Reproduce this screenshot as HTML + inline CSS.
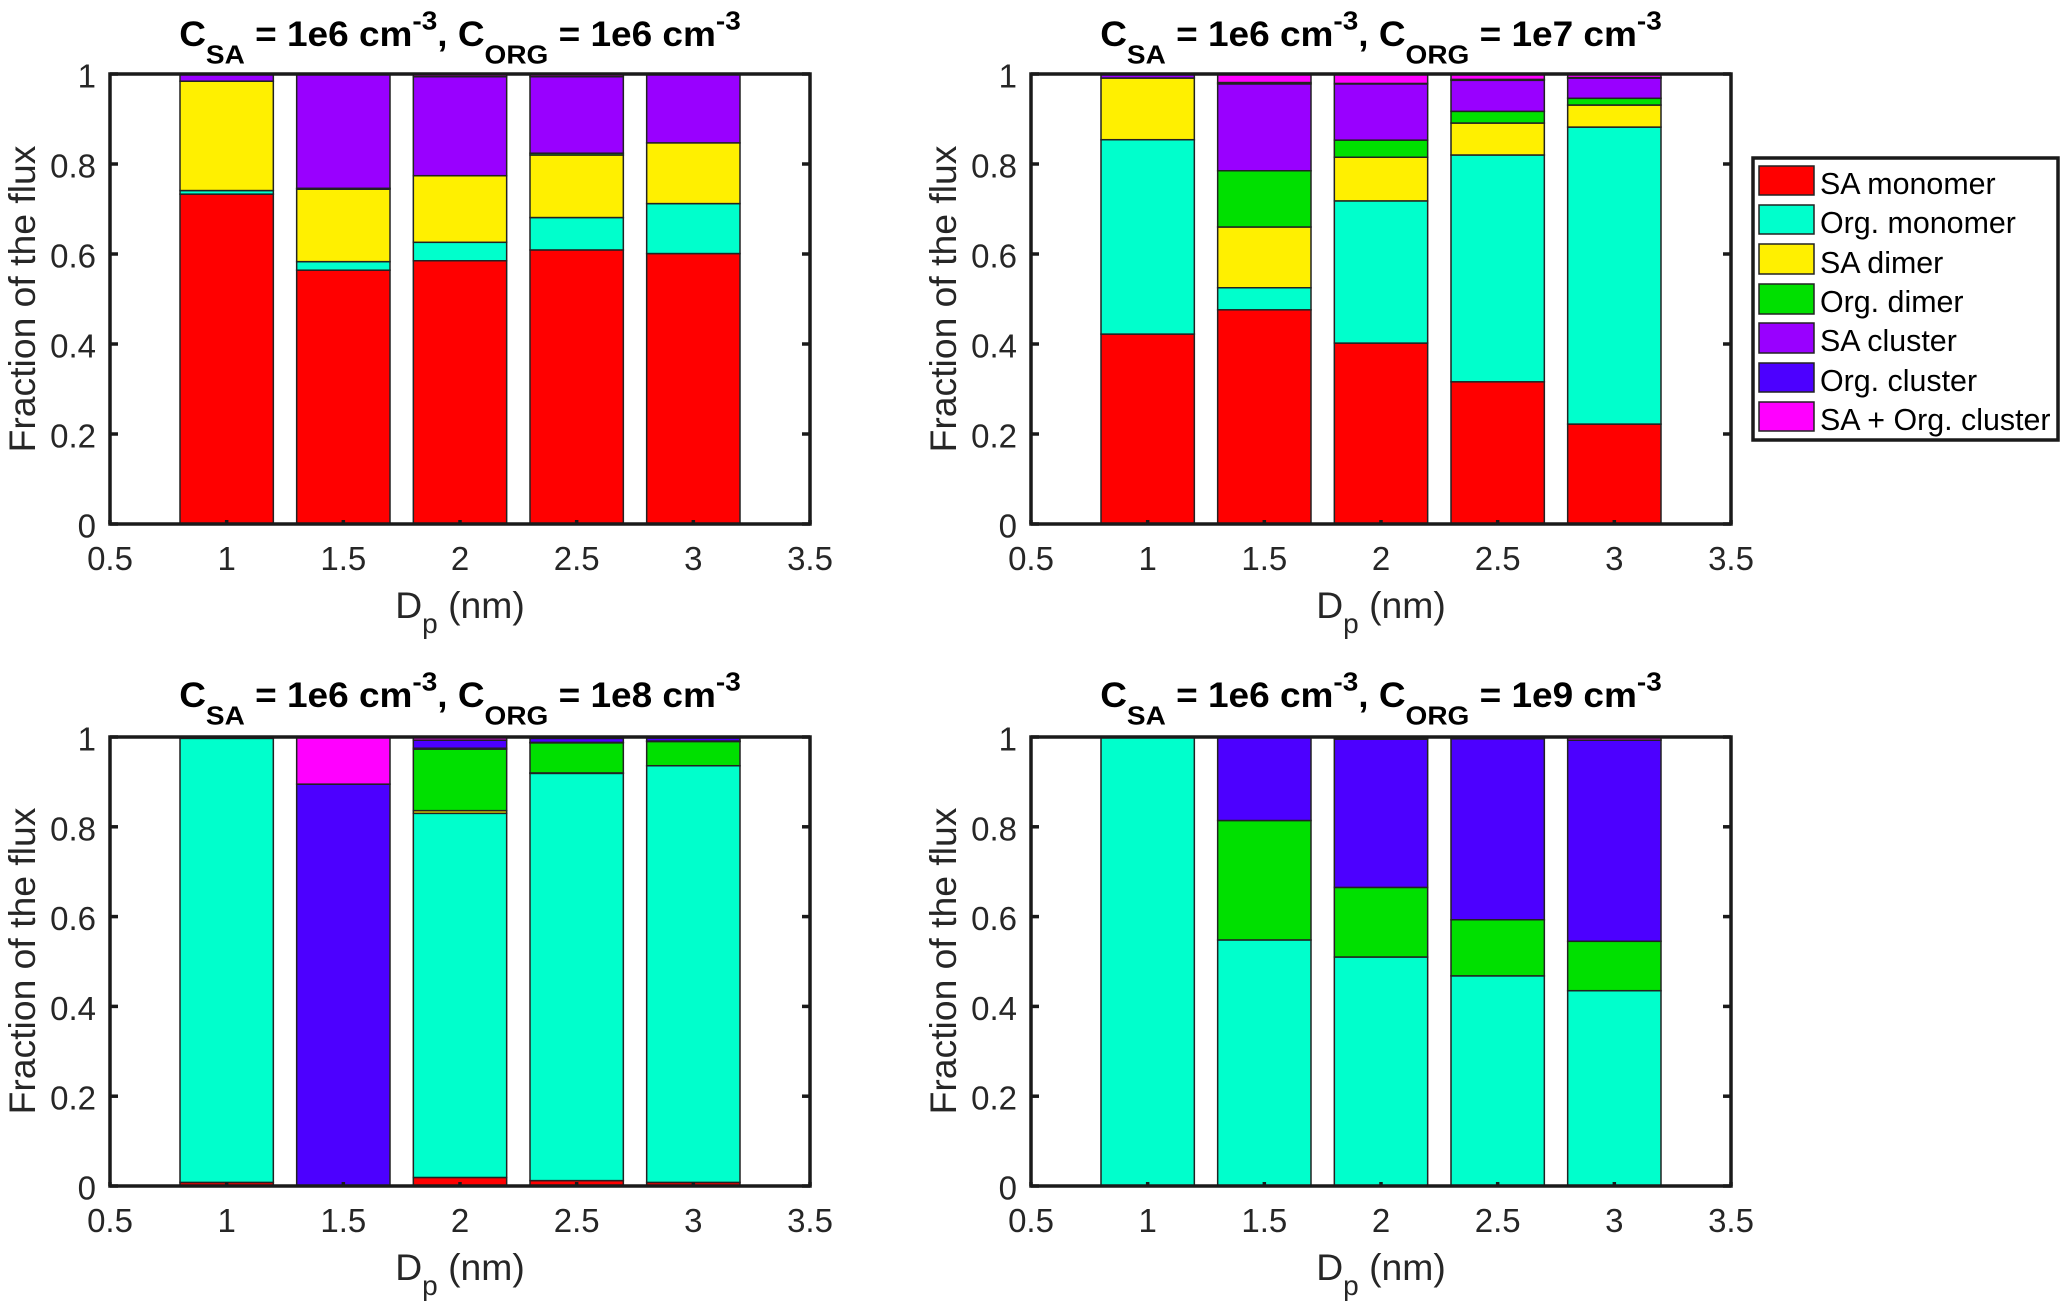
<!DOCTYPE html>
<html lang="en">
<head>
<meta charset="utf-8">
<title>Fraction of the flux by particle diameter</title>
<style>
html,body{margin:0;padding:0;background:#fff;}
svg{display:block;}
text{font-family:"Liberation Sans",Arial,sans-serif;fill:#262626;}
.tick-label{font-size:33px;}
.axis-label{font-size:37.3px;}
.title{font-size:37px;font-weight:bold;fill:#000;text-anchor:middle;}
.title .small{font-size:28px;}
.legend-text{font-size:30.4px;fill:#000;}
</style>
</head>
<body>
<svg id="figure" xmlns="http://www.w3.org/2000/svg" width="2067" height="1311" viewBox="0 0 2067 1311">
  <rect width="2067" height="1311" fill="#fff"/>

  <g id="panel-a">
    <text class="title" transform="translate(460,46) scale(1,0.94)">C<tspan class="small" dy="18.6">SA</tspan><tspan dy="-18.6"> = 1e6 cm</tspan><tspan class="small" dy="-17.6">-3</tspan><tspan dy="17.6">, C</tspan><tspan class="small" dy="18.6">ORG</tspan><tspan dy="-18.6"> = 1e6 cm</tspan><tspan class="small" dy="-17.6">-3</tspan></text>
    <text class="axis-label" x="460" y="618" text-anchor="middle">D<tspan font-size="28" dy="15">p</tspan><tspan dy="-15"> (nm)</tspan></text>
    <text class="axis-label" transform="translate(35,299) rotate(-90)" text-anchor="middle">Fraction of the flux</text>
  </g>

  <g id="panel-b">
    <text class="title" transform="translate(1381,46) scale(1,0.94)">C<tspan class="small" dy="18.6">SA</tspan><tspan dy="-18.6"> = 1e6 cm</tspan><tspan class="small" dy="-17.6">-3</tspan><tspan dy="17.6">, C</tspan><tspan class="small" dy="18.6">ORG</tspan><tspan dy="-18.6"> = 1e7 cm</tspan><tspan class="small" dy="-17.6">-3</tspan></text>
    <text class="axis-label" x="1381" y="618" text-anchor="middle">D<tspan font-size="28" dy="15">p</tspan><tspan dy="-15"> (nm)</tspan></text>
    <text class="axis-label" transform="translate(956,299) rotate(-90)" text-anchor="middle">Fraction of the flux</text>
  </g>

  <g id="panel-c">
    <text class="title" transform="translate(460,707) scale(1,0.94)">C<tspan class="small" dy="18.6">SA</tspan><tspan dy="-18.6"> = 1e6 cm</tspan><tspan class="small" dy="-17.6">-3</tspan><tspan dy="17.6">, C</tspan><tspan class="small" dy="18.6">ORG</tspan><tspan dy="-18.6"> = 1e8 cm</tspan><tspan class="small" dy="-17.6">-3</tspan></text>
    <text class="axis-label" x="460" y="1280" text-anchor="middle">D<tspan font-size="28" dy="15">p</tspan><tspan dy="-15"> (nm)</tspan></text>
    <text class="axis-label" transform="translate(35,961) rotate(-90)" text-anchor="middle">Fraction of the flux</text>
  </g>

  <g id="panel-d">
    <text class="title" transform="translate(1381,707) scale(1,0.94)">C<tspan class="small" dy="18.6">SA</tspan><tspan dy="-18.6"> = 1e6 cm</tspan><tspan class="small" dy="-17.6">-3</tspan><tspan dy="17.6">, C</tspan><tspan class="small" dy="18.6">ORG</tspan><tspan dy="-18.6"> = 1e9 cm</tspan><tspan class="small" dy="-17.6">-3</tspan></text>
    <text class="axis-label" x="1381" y="1280" text-anchor="middle">D<tspan font-size="28" dy="15">p</tspan><tspan dy="-15"> (nm)</tspan></text>
    <text class="axis-label" transform="translate(956,961) rotate(-90)" text-anchor="middle">Fraction of the flux</text>
  </g>

  <g id="legend">
    <rect x="1753" y="158" width="305" height="282" fill="#fff" stroke="#1a1a1a" stroke-width="3.5"/>
    <g><rect x="1759" y="166" width="55" height="29" fill="#ff0000" stroke="#222" stroke-width="1.5"/><text class="legend-text" x="1820" y="194">SA monomer</text></g>
    <g><rect x="1759" y="205" width="55" height="29" fill="#00ffcc" stroke="#222" stroke-width="1.5"/><text class="legend-text" x="1820" y="233">Org. monomer</text></g>
    <g><rect x="1759" y="244" width="55" height="30" fill="#fff000" stroke="#222" stroke-width="1.5"/><text class="legend-text" x="1820" y="273">SA dimer</text></g>
    <g><rect x="1759" y="284" width="55" height="30" fill="#00e000" stroke="#222" stroke-width="1.5"/><text class="legend-text" x="1820" y="312">Org. dimer</text></g>
    <g><rect x="1759" y="323" width="55" height="30" fill="#9900ff" stroke="#222" stroke-width="1.5"/><text class="legend-text" x="1820" y="351">SA cluster</text></g>
    <g><rect x="1759" y="363" width="55" height="29" fill="#4c00ff" stroke="#222" stroke-width="1.5"/><text class="legend-text" x="1820" y="391">Org. cluster</text></g>
    <g><rect x="1759" y="402" width="55" height="29" fill="#ff00ff" stroke="#222" stroke-width="1.5"/><text class="legend-text" x="1820" y="430">SA + Org. cluster</text></g>
  </g>
</svg>

<script>
// Shared axis categories and tick labels
const diameters = [1, 1.5, 2, 2.5, 3];
const xTickValues = [0.5, 1, 1.5, 2, 2.5, 3, 3.5];
const xTickLabels = ["0.5", "1", "1.5", "2", "2.5", "3", "3.5"];
const yTickValues = [0, 0.2, 0.4, 0.6, 0.8, 1];
const yTickLabels = ["0", "0.2", "0.4", "0.6", "0.8", "1"];
const barWidth = 0.4;

// Panel A: C_ORG = 1e6
const saMonomerA = [0.733, 0.564, 0.585, 0.609, 0.601];
const orgMonomerA = [0.008, 0.019, 0.041, 0.072, 0.111];
const saDimerA = [0.243, 0.161, 0.148, 0.139, 0.135];
const orgDimerA = [0, 0.002, 0, 0.004, 0];
const saClusterA = [0.016, 0.254, 0.220, 0.170, 0.153];
const orgClusterA = [0, 0, 0, 0, 0];
const mixedClusterA = [0, 0, 0.006, 0.006, 0];

// Panel B: C_ORG = 1e7
const saMonomerB = [0.422, 0.476, 0.402, 0.316, 0.222];
const orgMonomerB = [0.432, 0.049, 0.316, 0.504, 0.660];
const saDimerB = [0.137, 0.135, 0.097, 0.071, 0.049];
const orgDimerB = [0, 0.125, 0.038, 0.026, 0.015];
const saClusterB = [0.009, 0.193, 0.125, 0.069, 0.045];
const orgClusterB = [0, 0.003, 0.001, 0.002, 0.001];
const mixedClusterB = [0, 0.019, 0.021, 0.012, 0.008];

// Panel C: C_ORG = 1e8
const saMonomerC = [0.008, 0, 0.019, 0.012, 0.008];
const orgMonomerC = [0.989, 0, 0.811, 0.907, 0.928];
const saDimerC = [0, 0, 0.006, 0.001, 0];
const orgDimerC = [0.001, 0, 0.137, 0.067, 0.054];
const saClusterC = [0, 0, 0.002, 0.001, 0.001];
const orgClusterC = [0.002, 0.895, 0.018, 0.009, 0.007];
const mixedClusterC = [0, 0.105, 0.007, 0.003, 0.002];

// Panel D: C_ORG = 1e9
const saMonomerD = [0, 0, 0, 0, 0];
const orgMonomerD = [1, 0.548, 0.510, 0.468, 0.435];
const saDimerD = [0, 0, 0, 0, 0];
const orgDimerD = [0, 0.266, 0.155, 0.125, 0.110];
const saClusterD = [0, 0, 0, 0, 0];
const orgClusterD = [0, 0.186, 0.330, 0.403, 0.448];
const mixedClusterD = [0, 0, 0.005, 0.004, 0.007];

const seriesKeys = ["sa-monomer", "org-monomer", "sa-dimer", "org-dimer", "sa-cluster", "org-cluster", "sa-org-cluster"];
const seriesColors = ["#ff0000", "#00ffcc", "#fff000", "#00e000", "#9900ff", "#4c00ff", "#ff00ff"];

const panelASeries = [saMonomerA, orgMonomerA, saDimerA, orgDimerA, saClusterA, orgClusterA, mixedClusterA];
const panelBSeries = [saMonomerB, orgMonomerB, saDimerB, orgDimerB, saClusterB, orgClusterB, mixedClusterB];
const panelCSeries = [saMonomerC, orgMonomerC, saDimerC, orgDimerC, saClusterC, orgClusterC, mixedClusterC];
const panelDSeries = [saMonomerD, orgMonomerD, saDimerD, orgDimerD, saClusterD, orgClusterD, mixedClusterD];

const SVG_NS = "http://www.w3.org/2000/svg";

function make(tag, attrs, parent) {
  const el = document.createElementNS(SVG_NS, tag);
  for (const k in attrs) el.setAttribute(k, attrs[k]);
  parent.appendChild(el);
  return el;
}

function drawPanel(groupId, series, box) {
  const root = document.getElementById(groupId);
  const xScale = v => box.left + (v - 0.5) / 3 * (box.right - box.left);
  const yScale = v => box.bottom - v * (box.bottom - box.top);

  const bg = make("rect", {x: box.left, y: box.top, width: box.right - box.left, height: box.bottom - box.top, fill: "#fff"}, root);
  
  

  diameters.forEach((d, i) => {
    let base = 0;
    series.forEach((values, s) => {
      const top = base + values[i];
      const y1 = yScale(top);
      const y0 = yScale(base);
      const seg = make("rect", {
        x: xScale(d - barWidth / 2),
        y: y1,
        width: xScale(d + barWidth / 2) - xScale(d - barWidth / 2),
        height: Math.max(0, y0 - y1),
        fill: seriesColors[s],
        stroke: "#222",
        "stroke-width": 1.5
      }, root);
      
      
      base = top;
    });
  });

  yTickValues.forEach((v, i) => {
    const y = yScale(v);
    const leftTick = make("line", {x1: box.left, x2: box.left + 8, y1: y, y2: y, stroke: "#1a1a1a", "stroke-width": 3.5}, root);
    
    
    const rightTick = make("line", {x1: box.right, x2: box.right - 8, y1: y, y2: y, stroke: "#1a1a1a", "stroke-width": 3.5}, root);
    
    
    const label = make("text", {x: box.left - 14, y: y + 13.5, "text-anchor": "end", class: "tick-label"}, root);
    
    
    label.textContent = yTickLabels[i];
  });

  xTickValues.forEach((v, i) => {
    const x = xScale(v);
    const tick = make("line", {x1: x, x2: x, y1: box.bottom, y2: box.bottom - 4, stroke: "#1a1a1a", "stroke-width": 3.5}, root);
    
    
    const label = make("text", {x: x, y: box.bottom + 46, "text-anchor": "middle", class: "tick-label"}, root);
    
    
    label.textContent = xTickLabels[i];
  });

  const frame = make("rect", {x: box.left, y: box.top, width: box.right - box.left, height: box.bottom - box.top, fill: "none", stroke: "#1a1a1a", "stroke-width": 3.5}, root);
  
  
}

drawPanel("panel-a", panelASeries, {left: 110, right: 810, top: 74, bottom: 524});
drawPanel("panel-b", panelBSeries, {left: 1031, right: 1731, top: 74, bottom: 524});
drawPanel("panel-c", panelCSeries, {left: 110, right: 810, top: 737, bottom: 1186});
drawPanel("panel-d", panelDSeries, {left: 1031, right: 1731, top: 737, bottom: 1186});
</script>
</body>
</html>
